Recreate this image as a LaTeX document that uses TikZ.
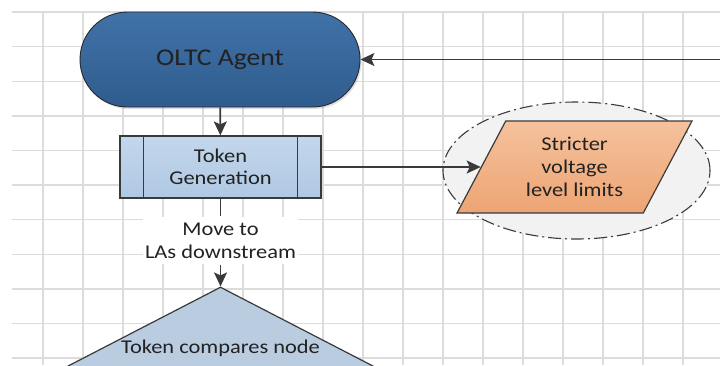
\documentclass[tikz,border=0pt]{standalone}
\usepackage{fontspec}
\setmainfont{Carlito}[FakeStretch=1.15]
\usepackage{tikz}
\usetikzlibrary{positioning,arrows.meta,shapes.geometric,shapes.misc,shadows}
\usepackage{xcolor}
\definecolor{agentblue}{HTML}{4072A8}
\definecolor{agentdark}{HTML}{2F5C8E}
\definecolor{boxblue}{HTML}{C3D7EC}
\definecolor{boxbluedark}{HTML}{AFC8E2}
\definecolor{peach}{HTML}{F5C29C}
\definecolor{peachdark}{HTML}{EDA474}
\definecolor{linegray}{HTML}{3A3A3A}
\definecolor{gridgray}{HTML}{DCDCDC}
\definecolor{textgray}{HTML}{222222}

\begin{document}
\begin{tikzpicture}[
    x=1pt, y=-1pt,
    gridLine/.style={draw=gridgray, line width=1.4pt},
    agentNode/.style={rounded rectangle, draw=linegray!70!black, line width=0.9pt, top color=agentblue, bottom color=agentdark, minimum width=280pt, minimum height=95pt, inner sep=0pt, font=\fontsize{24}{28}\selectfont, text=textgray, drop shadow={shadow xshift=1.5pt, shadow yshift=-2pt, opacity=0.25}},
    processNode/.style={rectangle, draw=linegray, line width=1.2pt, top color=boxblue, bottom color=boxbluedark, minimum width=201pt, minimum height=62pt, inner sep=0pt, align=center, font=\fontsize{19.5}{22}\selectfont, text=textgray},
    decisionNode/.style={diamond, draw=linegray, line width=1.2pt, fill=boxblue!95!black, minimum width=464pt, minimum height=240pt, inner sep=0pt},
    zoneNode/.style={ellipse, draw=linegray, line width=1.1pt, dash pattern=on 13pt off 4pt on 2pt off 4pt, fill=black!5, minimum width=267pt, minimum height=137pt, inner sep=0pt},
    dataNode/.style={trapezium, trapezium left angle=60, trapezium right angle=120, trapezium stretches=true, draw=linegray, line width=1.2pt, top color=peach, bottom color=peachdark, minimum width=235pt, minimum height=92pt, inner sep=0pt, align=center, font=\fontsize{19.5}{23}\selectfont, text=textgray},
    edgeLabel/.style={fill=white, inner xsep=2pt, inner ysep=6pt, align=center, font=\fontsize{19.5}{23}\selectfont, text=textgray},
    plainText/.style={inner sep=0pt, font=\fontsize{19.5}{23}\selectfont, text=textgray},
    flowArrow/.style={-{Stealth[length=14pt, width=13pt, inset=3pt]}, draw=linegray, line width=1.6pt}
]
    \useasboundingbox (0,0) rectangle (720,365);
    \clip (0,0) rectangle (720,365);

    % grid
    \foreach \k in {0,...,10}
        \draw[gridLine] (12,{12+34.6*\k}) -- (720,{12+34.6*\k});
    \foreach \k in {0,...,16}
        \draw[gridLine] ({43+40*\k},12) -- ({43+40*\k},365);

    \node[agentNode]    (agent)  at (220, 59.5)  {OLTC Agent};
    \node[processNode]  (token)  at (220.5, 167) {Token\\Generation};
    \draw[linegray, line width=1.2pt] ([xshift=24pt]token.north west) -- ([xshift=24pt]token.south west);
    \draw[linegray, line width=1.2pt] ([xshift=-24pt]token.north east) -- ([xshift=-24pt]token.south east);

    \node[zoneNode]     (zone)   at (576.5, 170.5) {};
    \node[dataNode]     (limits) at (574.5, 167) {Stricter\\voltage\\level limits};

    \node[edgeLabel]    (move)   at (220.5, 240.5) {Move to\\LAs downstream};
    \node[decisionNode] (cmp)    at (220.5, 407) {};
    \node[plainText]    (cmpText) at (220.5, 348) {Token compares node};

    \coordinate (feedIn) at (722, 59.5);

    \draw[flowArrow] (feedIn) -- (feedIn -| agent.east);
    \draw[flowArrow] (agent) -- (token);
    \draw[flowArrow] (token) -- (limits);
    \draw[linegray, line width=1.6pt] (token) -- (move);
    \draw[flowArrow] (move) -- (cmp.north);
\end{tikzpicture}
\end{document}
